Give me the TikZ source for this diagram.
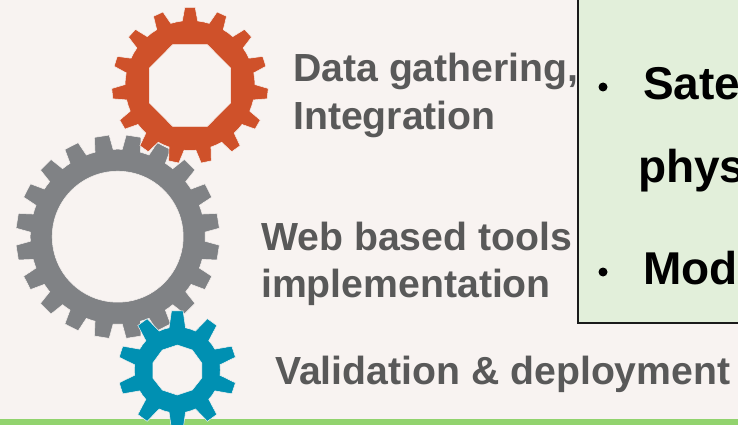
\documentclass[tikz,border=0pt]{standalone}
\usepackage{fontspec}
\setmainfont{Liberation Sans}
\definecolor{bgc}{HTML}{F8F3F1}
\definecolor{boxc}{HTML}{E2EFDA}
\definecolor{barc}{HTML}{92D36E}
\definecolor{orangec}{HTML}{CF512A}
\definecolor{greyc}{HTML}{808285}
\definecolor{bluec}{HTML}{0090B2}
\definecolor{labelc}{HTML}{595959}
\definecolor{edgec}{HTML}{1A1A1A}
\tikzset{
  gearfill/.style={fill=#1,draw=bgc,line width=0.5pt,even odd rule},
  greylabel/.style={anchor=base west,inner sep=0pt,text=labelc,font=\fontsize{39.2}{39.2}\selectfont\bfseries},
  blacklabel/.style={anchor=base west,inner sep=0pt,text=black,font=\fontsize{46}{46}\selectfont\bfseries},
  bulletmark/.style={circle,fill=black,inner sep=0pt,minimum size=9pt},
  panel/.style={fill=boxc,draw=edgec,line width=1.3pt}
}
% colour, cx, cy, teeth, start, root r, tip r, root half-angle, tip half-angle
\newcommand{\gearshape}[9]{%
  \pgfmathsetmacro{\gstep}{360/#4}%
  \pgfmathtruncatemacro{\glast}{#4-1}%
  \begin{scope}[shift={(#2,#3)}]
  \fill[gearfill=#1] (#5-#8:#6)
    \foreach \k in {0,...,\glast}{
      \pgfextra{\pgfmathsetmacro{\ga}{#5+\k*\gstep}}
      -- (\ga-#8:#6) -- (\ga-#9:#7) -- (\ga+#9:#7) -- (\ga+#8:#6)
      -- (\ga+\gstep/2:#6)
    } -- cycle \gearholepath;
  \end{scope}%
}
\begin{document}
\begin{tikzpicture}[x=1pt,y=-1pt]
\useasboundingbox (0,0) rectangle (738,425);
\clip (0,0) rectangle (738,425);
\fill[bgc] (0,0) rectangle (738,425);
\fill[barc] (0,419) rectangle (738,425);
% grey gear
\def\gearholepath{(0,0) circle [radius=65.5]}
\gearshape{greyc}{117.7}{236.7}{20}{9}{87.5}{102}{6}{4.2}
% orange gear
\def\gearholepath{(17.3,40.9) -- (40.7,17.3) -- (40.7,-17.3) -- (17.3,-40.9) -- (-17.3,-40.9) -- (-40.7,-17.3) -- (-40.7,17.3) -- (-17.3,40.9) -- cycle}
\gearshape{orangec}{190}{85.5}{15}{6}{65}{78.3}{6.8}{3.8}
% blue gear
\def\gearholepath{(0,-25) -- (15,-20) -- (24.5,-7) -- (24.5,8) -- (15,20) -- (0,25) -- (-15,20) -- (-24.5,8) -- (-24.5,-7) -- (-15,-20) -- cycle}
\gearshape{bluec}{177.3}{370}{10}{18}{43}{59.5}{11}{5.6}
% panel
\draw[panel] (578,-5) rectangle (745,323);
\node[greylabel] (t1) at (293,82) {Data gathering,};
\node[greylabel] (t2) at (293,129) {Integration};
\node[greylabel] (t3) at (261,250) {Web based tools};
\node[greylabel] (t4) at (261,297) {implementation};
\node[greylabel] (t5) at (275,384) {Validation \& deployment};
\node[bulletmark] (b1) at (603,87) {};
\node[bulletmark] (b2) at (603,272) {};
\node[blacklabel] (p1) at (643,99.5) {Sate};
\node[blacklabel] (p2) at (638,182) {phys};
\node[blacklabel] (p3) at (643,284.5) {Mod};
\end{tikzpicture}
\end{document}
